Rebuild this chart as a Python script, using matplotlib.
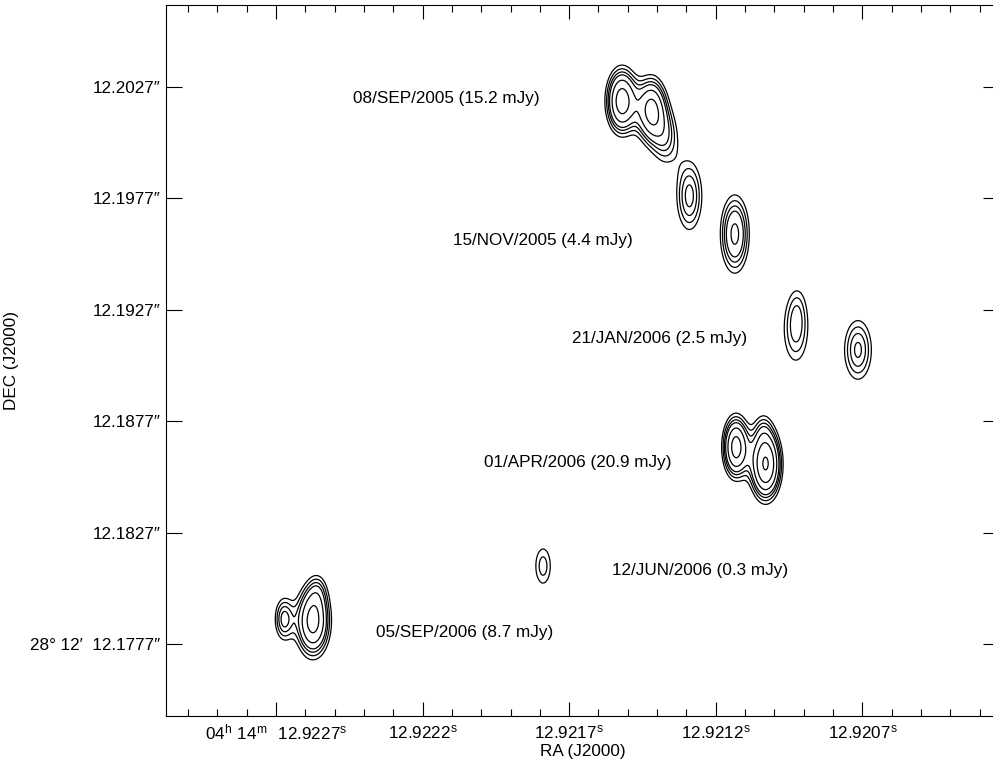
import numpy as np
import matplotlib
matplotlib.use("Agg")
import matplotlib.pyplot as plt

plt.rcParams['font.family'] = ['Liberation Sans', 'DejaVu Sans']
plt.rcParams['mathtext.default'] = 'regular'

# source components (RA seconds past 04h14m, Dec arcsec past 28d12m)
comp_ra = [12.92152, 12.92142, 12.92137,
           12.92129, 12.921135,
           12.920927, 12.92092, 12.920715,
           12.921131, 12.921030, 12.92104,
           12.921789,
           12.922673, 12.922574, 12.922557]
comp_dec = [12.20207, 12.20167, 12.20040,
            12.19781, 12.19610,
            12.19179, 12.19292, 12.19090,
            12.18654, 12.18578, 12.18740,
            12.18120,
            12.17882, 12.17873, 12.18012]
comp_peak = [13, 12, 5,
             6.5, 8.6,
             5.3, 1.4, 6.3,
             12.5, 15.5, 2.3,
             4.5,
             6.3, 12.5, 2.5]
# component widths: RA in 1e-5 s, Dec in milliarcsec
comp_sra = [3.4, 3.4, 3.4,
            3.4, 3.4,
            3.6, 2.4, 3.75,
            2.9, 3.3, 2.4,
            2.73,
            2.39, 3.75, 2.4]
comp_sdec = [0.94, 0.94, 0.94,
             1.21, 1.21,
             1.26, 0.8, 1.08,
             0.90, 1.0, 0.6,
             0.85,
             0.72, 1.03, 0.6]

levels = [3, 4, 5, 6, 8, 11, 15]

epoch_labels = ["08/SEP/2005 (15.2 mJy)", "15/NOV/2005 (4.4 mJy)", "21/JAN/2006 (2.5 mJy)",
                "01/APR/2006 (20.9 mJy)", "12/JUN/2006 (0.3 mJy)", "05/SEP/2006 (8.7 mJy)"]
label_px = [(353, 98), (453, 241), (572, 339), (484, 463), (612, 570), (376, 632)]

ra_ticks = [12.9227, 12.9222, 12.9217, 12.9212, 12.9207]
dec_ticks = [12.1777, 12.1827, 12.1877, 12.1927, 12.1977, 12.2027]

ra_lim = (12.923075, 12.920234)
dec_lim = (12.17447, 12.20638)

# brightness map built from the components
ra_grid = np.linspace(ra_lim[1], ra_lim[0], 900)
dec_grid = np.linspace(dec_lim[0], dec_lim[1], 800)
X, Y = np.meshgrid(ra_grid, dec_grid)
Z = np.zeros_like(X)
for ra, dec, p, sr, sd in zip(comp_ra, comp_dec, comp_peak, comp_sra, comp_sdec):
    Z += p * np.exp(-0.5 * (((X - ra) / (sr * 1e-5)) ** 2 + ((Y - dec) / (sd * 1e-3)) ** 2))

fig = plt.figure(figsize=(9.93, 7.65), dpi=100)
# right edge of the frame sits just past the image border
ax = fig.add_axes([166 / 993, 1 - 716 / 765, 833 / 993, 711 / 765])

ax.contour(X, Y, Z, levels=levels, colors='black', linewidths=0.9)

ax.set_xlim(*ra_lim)
ax.set_ylim(*dec_lim)

ax.set_xticks(ra_ticks)
ax.set_xticks(np.arange(12.9203, 12.92305, 0.0001), minor=True)
xlabs = [r'$04^{h}\ 14^{m}\ \ 12.9227^{s}$'] + [r'$%.4f^{s}$' % v for v in ra_ticks[1:]]
ax.set_xticklabels(xlabs)
ax.set_yticks(dec_ticks)
ylabs = ['28\u00b0 12\u2032  12.1777\u2033'] + ['%.4f\u2033' % v for v in dec_ticks[1:]]
ax.set_yticklabels(ylabs)

ax.tick_params(axis='x', which='major', direction='in', length=10, width=0.8,
               top=True, bottom=True, labelsize=12.3, pad=5)
ax.tick_params(axis='x', which='minor', direction='in', length=5, width=0.8,
               top=True, bottom=True)
ax.tick_params(axis='y', which='major', direction='in', length=11.5, width=0.8,
               left=True, right=True, labelsize=12.3, pad=4)
for s in ax.spines.values():
    s.set_linewidth(0.8)

for txt, (px, py) in zip(epoch_labels, label_px):
    fig.text(px / 993, 1 - py / 765, txt, ha='left', va='center', fontsize=12.3)

ax.set_xlabel('RA (J2000)', fontsize=12.3, labelpad=1)
fig.text(12 / 993, 1 - 360 / 765, 'DEC (J2000)', rotation=90, ha='center', va='center', fontsize=12.3)

fig.savefig('out.png', dpi=100)
